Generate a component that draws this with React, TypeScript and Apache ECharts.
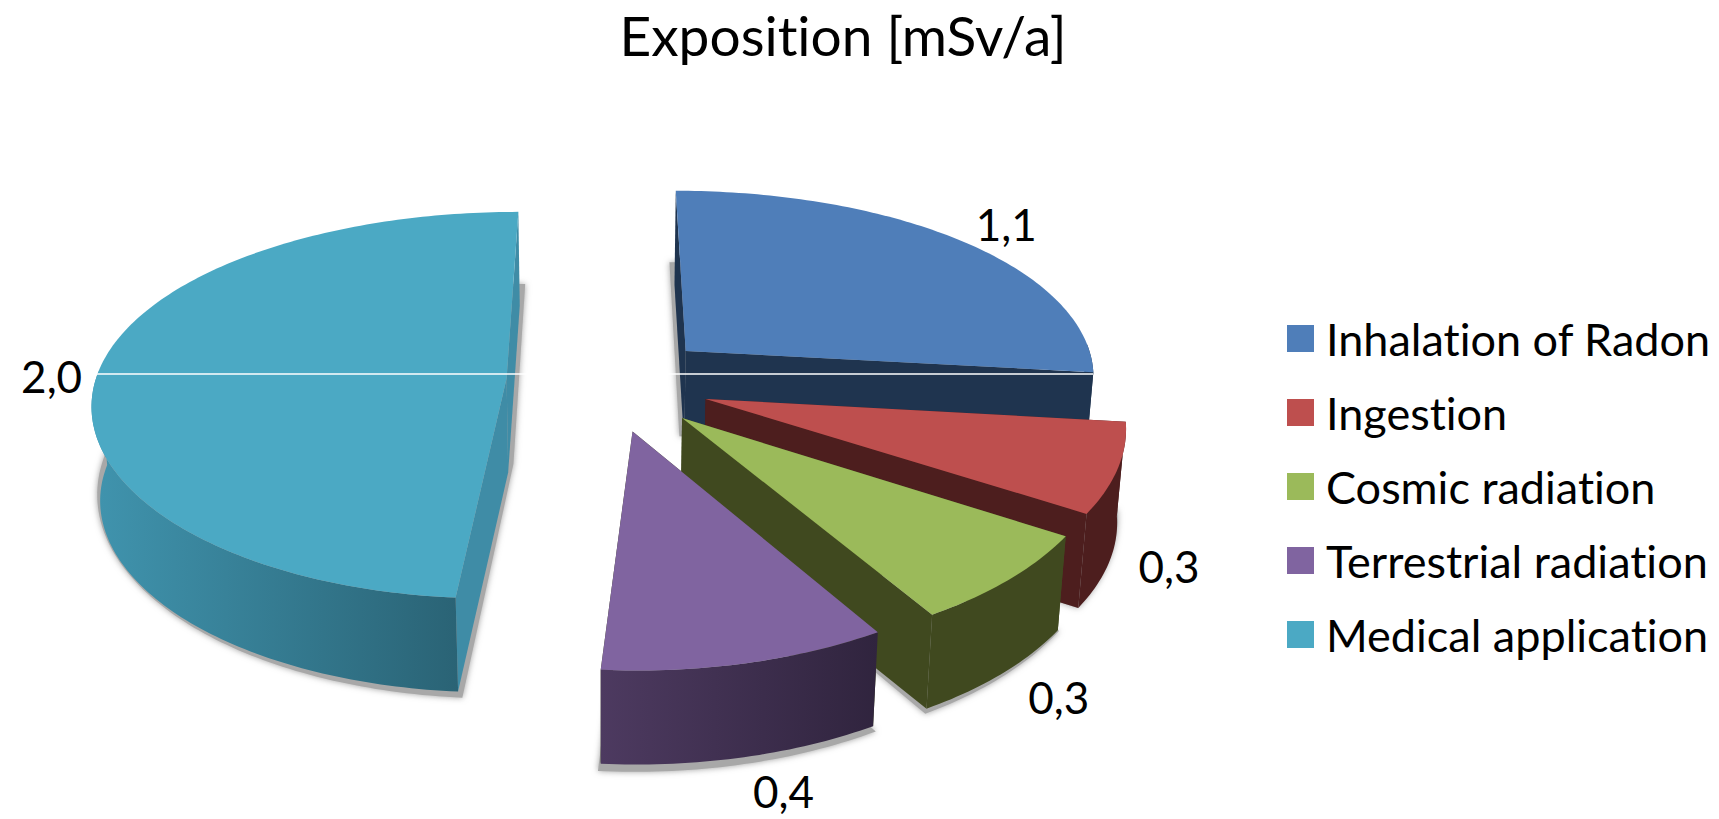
import React, { useEffect, useRef } from "react";
import * as echarts from "echarts";

const CATEGORIES = ["Inhalation of Radon", "Ingestion", "Cosmic radiation", "Terrestrial radiation", "Medical application"];
const VALUES = [1.1, 0.3, 0.3, 0.4, 2.0];
const VALUE_LABELS = ["1,1", "0,3", "0,3", "0,4", "2,0"];
const TOP_COLORS = ["#4f7eb9", "#be4f4e", "#9bba5a", "#8064a0", "#4ba9c4"];
const TITLE = "Exposition [mSv/a]";

// Pulled-out distance of each slice (fraction of the pie radius) and the turn,
// in degrees, of its pull direction away from the slice's middle.
const EXPLODE = [0.258, 0.265, 0.27, 0.27, 0.235];
const EXPLODE_TURN = [4.5, 2, 0, -1.7, 0];
const RIM_COLORS: [string, string][] = [
  ["#1f344f", "#1f344f"],
  ["#4d1e1e", "#4d1e1e"],
  ["#40491f", "#40491f"],
  ["#4d3a60", "#30243e"],
  ["#4094ae", "#2a6375"],
];
const CUT_COLORS = ["#1f344f", "#4d1e1e", "#40491f", "#40491f", "#3f8ca6"];
const LABEL_NUDGE: [number, number][] = [[47, -16], [51, 98], [49, 118], [37, 128], [-47, 5]];

// Perspective camera of the tilted pie.
const CX = 603, CY = 380, RX = 411, RY = 190, K = 0.139, K_RIM = 0.115;
const DEPTH = 94, VANISH_X = 600, BOTTOM_SCALE = 0.983;
const FONT = "Lato";

const TOTAL = VALUES.reduce((a, b) => a + b, 0);

function sliceAngles(i: number) {
  const before = VALUES.slice(0, i).reduce((a, b) => a + b, 0);
  return [(before / TOTAL) * 2 * Math.PI, ((before + VALUES[i]) / TOTAL) * 2 * Math.PI];
}
// dx is the pull-out on the ground plane, sx the rim's own sideways reach.
function project(dx: number, sx: number, y: number): [number, number, number] {
  const p = 1 / (1 - K * y);
  const q = 1 / (1 - K_RIM * y);
  return [CX + (dx * p + sx * q) * RX, CY + y * p * RY, y];
}
function sliceGeometry(i: number) {
  const [a0, a1] = sliceAngles(i);
  const mid = (a0 + a1) / 2;
  const dir = mid + (EXPLODE_TURN[i] * Math.PI) / 180;
  const ox = EXPLODE[i] * Math.sin(dir), oy = -EXPLODE[i] * Math.cos(dir);
  const rim: [number, number, number][] = [];
  const frontRim: [number, number, number][] = [];
  const steps = Math.max(8, Math.ceil(((a1 - a0) * 180) / Math.PI));
  for (let s = 0; s <= steps; s++) {
    const a = a0 + ((a1 - a0) * s) / steps;
    const pt = project(ox, Math.sin(a), oy - Math.cos(a));
    rim.push(pt);
    // Only the viewer-facing part of the rim gets a wall.
    if (-Math.cos(a) > -0.05) frontRim.push(pt);
  }
  const apex = project(ox, 0, oy);
  const midRim = project(ox, Math.sin(mid), oy - Math.cos(mid));
  return { rim, frontRim, apex, midRim };
}
const lower = (pt: number[]): number[] => [VANISH_X + (pt[0] - VANISH_X) * BOTTOM_SCALE, pt[1] + DEPTH];
const xy = (pt: number[]) => [pt[0], pt[1]];

// Soft ground shadow: the slice's foot outline, lifted a little at the back and widened.
function renderShadow(params: any, api: any) {
  const i = params.dataIndex;
  api.value(0);
  const { rim, apex } = sliceGeometry(i);
  const outline = [apex, ...rim];
  const mapped = outline.map((pt) => [lower(pt)[0], pt[1] + 86 + 12 * pt[2]]);
  const mx = mapped.reduce((s, p) => s + p[0], 0) / mapped.length;
  const my = mapped.reduce((s, p) => s + p[1], 0) / mapped.length;
  const points = mapped.map((p) => [mx + (p[0] - mx) * 1.02, my + (p[1] - my) * 1.01]);
  return {
    type: "polygon",
    shape: { points },
    style: { fill: "#a8a8a8", shadowBlur: 6, shadowColor: "#a0a0a0" },
  };
}

function makeRenderItem(i: number) {
  return (_params: any, api: any) => {
    api.value(0);
    const { rim, frontRim, apex, midRim } = sliceGeometry(i);
    const first = rim[0], last = rim[rim.length - 1];
    const [c0, c1] = RIM_COLORS[i];
    const children: any[] = [
      {
        type: "polygon",
        shape: { points: [xy(apex), xy(first), lower(first), lower(apex)] },
        style: { fill: CUT_COLORS[i] },
      },
      {
        type: "polygon",
        shape: { points: [xy(apex), xy(last), lower(last), lower(apex)] },
        style: { fill: CUT_COLORS[i] },
      },
      {
        type: "polygon",
        shape: { points: [...frontRim.map(xy), ...frontRim.slice().reverse().map(lower)] },
        style: {
          fill: new echarts.graphic.LinearGradient(0, 0, 1, 0, [
            { offset: 0, color: c0 },
            { offset: 1, color: c1 },
          ]),
        },
      },
      {
        type: "polygon",
        shape: { points: [xy(apex), ...rim.map(xy)] },
        style: { fill: TOP_COLORS[i] },
      },
      {
        type: "text",
        style: {
          text: VALUE_LABELS[i],
          x: midRim[0] + LABEL_NUDGE[i][0],
          y: midRim[1] + LABEL_NUDGE[i][1],
          fill: "#000",
          fontFamily: FONT,
          fontSize: 44,
          align: "center",
          verticalAlign: "middle",
        },
      },
    ];
    return { type: "group", children };
  };
}

export default function App() {
  const ref = useRef<HTMLDivElement>(null);
  useEffect(() => {
    const chart = echarts.init(ref.current!, undefined, { renderer: "svg" });
    chart.setOption({
      animation: false,
      backgroundColor: "#fff",
      title: {
        text: TITLE,
        left: 838,
        top: 2,
        textAlign: "center",
        textStyle: { fontFamily: FONT, fontSize: 55, fontWeight: "normal", color: "#000" },
      },
      legend: {
        data: CATEGORIES,
        orient: "vertical",
        left: 1282,
        top: 311,
        icon: "rect",
        itemWidth: 27,
        itemHeight: 27,
        itemGap: 29,
        selectedMode: false,
        textStyle: { fontFamily: FONT, fontSize: 45, color: "#000", padding: [0, 0, 0, 7] },
      },
      graphic: [
        {
          type: "line",
          z: 100,
          shape: { x1: 91, y1: 374, x2: 1093, y2: 374 },
          style: { stroke: "#fff", lineWidth: 1.5 },
        },
      ],
      series: [
        {
          type: "custom",
          name: "shadow",
          coordinateSystem: "none",
          silent: true,
          data: VALUES,
          renderItem: renderShadow,
        },
        ...CATEGORIES.map((name, i) => ({
          type: "custom",
          name,
          coordinateSystem: "none",
          data: [VALUES[i]],
          itemStyle: { color: TOP_COLORS[i] },
          renderItem: makeRenderItem(i),
        })),
      ],
    });
    return () => chart.dispose();
  }, []);
  return (
    <div
      ref={ref}
      style={{ position: "fixed", left: 0, top: 0, width: 1719, height: 819, fontVariantLigatures: "none" }}
    />
  );
}
